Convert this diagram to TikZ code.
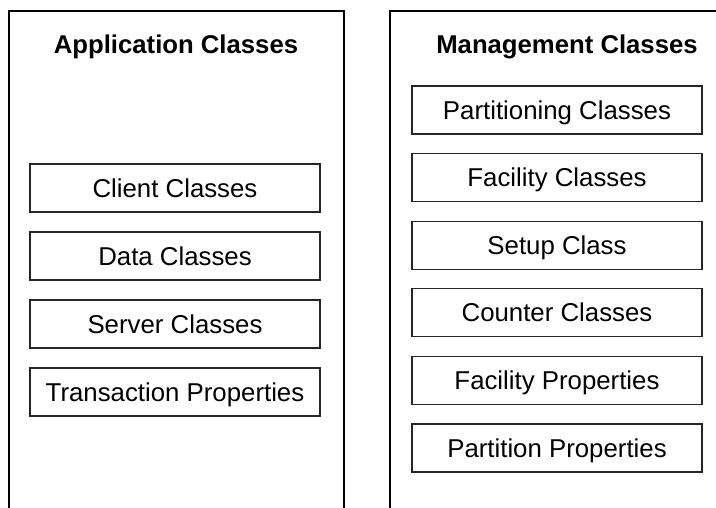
\documentclass[tikz,border=0pt]{standalone}
\usepackage{fontspec}
\setmainfont{Liberation Sans}
\usepackage{tikz}
\usetikzlibrary{positioning}

\begin{document}
\begin{tikzpicture}[x=1pt, y=-1pt,
  classbox/.style={draw=black!85, line width=1.2pt, minimum width=290pt, minimum height=48pt, inner sep=0pt, text height=18.4pt, text depth=0pt, font=\fontsize{25.8}{31}\selectfont},
  grouptitle/.style={inner sep=0pt, text height=18.4pt, text depth=0pt, font=\fontsize{25.7}{31}\selectfont\bfseries},
  groupframe/.style={line width=2pt},
  node distance=18.8pt]
\useasboundingbox (0,0) rectangle (716,508);
\clip (0,0) rectangle (716,508);
\draw[groupframe] (9,530) -- (9,11) -- (344,11) -- (344,530);
\draw[groupframe] (390,530) -- (390,11) -- (740,11);
\node[grouptitle] (apptitle) at (176,44) {Application Classes};
\node[grouptitle] (mgmttitle) at (567,44) {Management Classes};
\node[classbox] (client) at (175,188) {Client Classes};
\node[classbox, below=of client] (data) {Data Classes};
\node[classbox, below=of data] (server) {Server Classes};
\node[classbox, below=of server] (transaction) {Transaction Properties};
\node[classbox] (partitioning) at (557,110) {Partitioning Classes};
\node[classbox, below=18.4pt of partitioning] (facility) {Facility Classes};
\node[classbox, below=18.4pt of facility] (setup) {Setup Class};
\node[classbox, below=18.4pt of setup] (counter) {Counter Classes};
\node[classbox, below=18.4pt of counter] (facilityprops) {Facility Properties};
\node[classbox, below=18.4pt of facilityprops] (partitionprops) {Partition Properties};
\end{tikzpicture}
\end{document}
